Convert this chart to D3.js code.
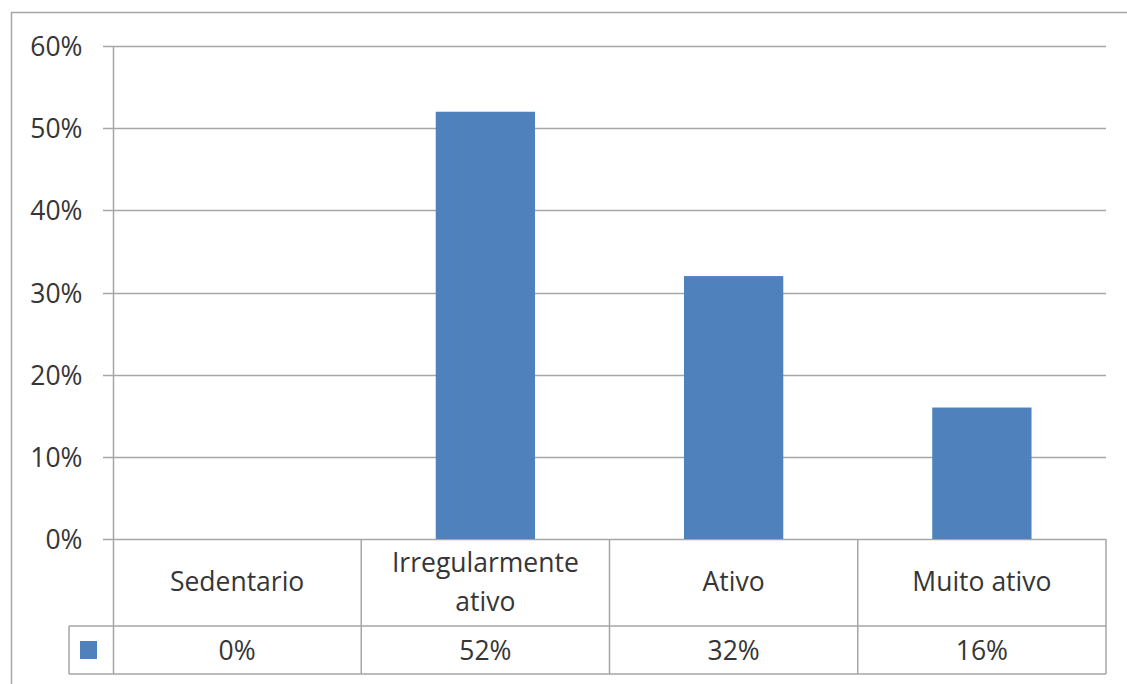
<!DOCTYPE html>
<html>
<head>
<meta charset="utf-8">
<script src="https://cdn.jsdelivr.net/npm/d3@7"></script>
<style>
  body { margin: 0; background: #fff; }
  svg { display: block; }
</style>
</head>
<body>
<div id="chart"></div>
<script>
// dados
let categories = ["Sedentario", "Irregularmente ativo", "Ativo", "Muito ativo"];
let labelLines = [["Sedentario"], ["Irregularmente", "ativo"], ["Ativo"], ["Muito ativo"]];
let values = [0, 0.52, 0.32, 0.16];
let yTicks = [0, 0.1, 0.2, 0.3, 0.4, 0.5, 0.6];

let config = {
  width: 1127,
  height: 684,
  left: 113,
  right: 1106,
  top: 46,
  bottom: 539,
  row1: 626,
  row2: 674,
  legendLeft: 69,
  barColor: '#4f81bd',
  lineColor: '#a6a6a6',
  textColor: '#363636',
  font: '"Open Sans", "DejaVu Sans", sans-serif',
  fontSize: '26.5px'
};

let svg = d3.select('#chart').append('svg')
  .attr('width', config.width)
  .attr('height', config.height);

// 外枠
svg.append('rect')
  .attr('x', 11.5).attr('y', 12.5)
  .attr('width', 1130).attr('height', 690)
  .attr('fill', 'none')
  .attr('stroke', config.lineColor)
  .attr('stroke-width', 1.5);

let x = d3.scaleBand()
  .domain(categories)
  .range([config.left, config.right])
  .paddingInner(0.6)
  .paddingOuter(0.3);

let y = d3.scaleLinear()
  .domain([0, 0.6])
  .range([config.bottom, config.top]);

let step = x.step();
let cellLeft = (c) => x(c) - step * 0.3;

// grid
svg.append('g')
  .selectAll('line')
  .data(yTicks)
  .enter().append('line')
  .attr('x1', config.left - 10)
  .attr('x2', config.right)
  .attr('y1', (d) => Math.round(y(d)) + 0.5)
  .attr('y2', (d) => Math.round(y(d)) + 0.5)
  .attr('stroke', config.lineColor)
  .attr('stroke-width', 1.5);

// y axis
let yAxis = svg.append('g')
  .attr('transform', 'translate(' + (config.left + 0.5) + ',0)')
  .call(d3.axisLeft(y).tickValues(yTicks).tickFormat(d3.format('.0%')).tickSize(0).tickPadding(31));
yAxis.select('.domain').remove();
yAxis.selectAll('text')
  .attr('dy', '0.36em')
  .attr('font-family', config.font)
  .attr('font-size', config.fontSize)
  .attr('fill', config.textColor);

svg.append('line')
  .attr('x1', config.left + 0.5).attr('x2', config.left + 0.5)
  .attr('y1', config.top).attr('y2', config.row2)
  .attr('stroke', config.lineColor)
  .attr('stroke-width', 1.5);

// bars
svg.append('g')
  .selectAll('rect')
  .data(values)
  .enter().append('rect')
  .attr('x', (d, i) => x(categories[i]))
  .attr('y', (d) => y(d))
  .attr('width', x.bandwidth())
  .attr('height', (d) => y(0) - y(d))
  .attr('fill', config.barColor);

// data table
let table = svg.append('g')
  .attr('stroke', config.lineColor)
  .attr('stroke-width', 1.5);

categories.forEach((c, i) => {
  if (i > 0) {
    table.append('line')
      .attr('x1', cellLeft(c)).attr('x2', cellLeft(c))
      .attr('y1', config.bottom).attr('y2', config.row2);
  }
});
table.append('line')
  .attr('x1', config.right).attr('x2', config.right)
  .attr('y1', config.bottom).attr('y2', config.row2);
table.append('line')
  .attr('x1', config.legendLeft).attr('x2', config.right)
  .attr('y1', config.row1).attr('y2', config.row1);
table.append('line')
  .attr('x1', config.legendLeft).attr('x2', config.right)
  .attr('y1', config.row2).attr('y2', config.row2);
table.append('line')
  .attr('x1', config.legendLeft).attr('x2', config.legendLeft)
  .attr('y1', config.row1).attr('y2', config.row2);

// category labels
let labels = svg.append('g')
  .selectAll('text')
  .data(labelLines)
  .enter().append('text')
  .attr('x', (d, i) => x(categories[i]) + x.bandwidth() / 2)
  .attr('y', (d) => d.length > 1 ? 572 : 591)
  .attr('text-anchor', 'middle')
  .attr('font-family', config.font)
  .attr('font-size', config.fontSize)
  .attr('fill', config.textColor);
labels.selectAll('tspan')
  .data((d) => d)
  .enter().append('tspan')
  .attr('x', function() { return d3.select(this.parentNode).attr('x'); })
  .attr('dy', (d, i) => i === 0 ? 0 : 39)
  .text((d) => d);

// values row
svg.append('g')
  .selectAll('text')
  .data(values)
  .enter().append('text')
  .attr('x', (d, i) => x(categories[i]) + x.bandwidth() / 2)
  .attr('y', 660)
  .attr('text-anchor', 'middle')
  .attr('font-family', config.font)
  .attr('font-size', config.fontSize)
  .attr('fill', config.textColor)
  .text((d) => d3.format('.0%')(d));

// legend key
svg.append('rect')
  .attr('x', 80).attr('y', 641)
  .attr('width', 17).attr('height', 18)
  .attr('fill', config.barColor);
</script>
</body>
</html>
